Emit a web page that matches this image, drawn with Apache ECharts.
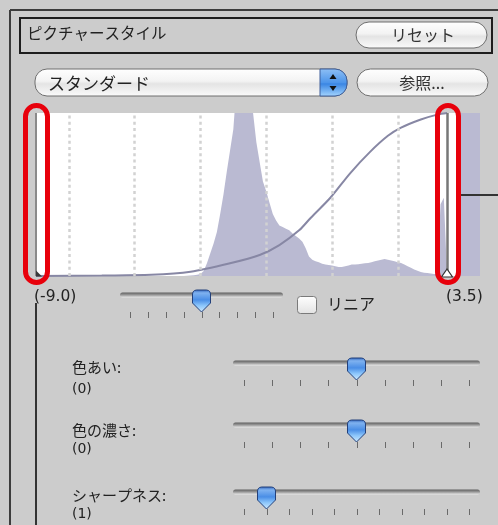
<!DOCTYPE html>
<html><head><meta charset="utf-8">
<script src="https://cdn.jsdelivr.net/npm/echarts/dist/echarts.min.js"></script>
<style>html,body{margin:0;padding:0;background:#cccccc;}#c{width:498px;height:525px;}</style>
</head><body><div id="c"></div>
<script>
// ---- data ----
const histEv = [-4.5,-4.4,-4.3,-4.2,-4.1,-4.0,-3.9,-3.8,-3.7,-3.6,-3.5,-3.4,-3.3,-3.2,-3.1,-3.0,-2.9,-2.8,-2.7,-2.6,-2.5,-2.4,-2.3,-2.2,-2.1,-2.0,-1.9,-1.8,-1.7,-1.6,-1.5,-1.4,-1.3,-1.2,-1.1,-1.0,-0.9,-0.8,-0.7,-0.6,-0.5,-0.4,-0.3,-0.2,-0.1,0.0,0.1,0.2,0.3,0.4,0.5,0.6,0.7,0.8,0.9,1.0,1.1,1.2,1.3,1.4,1.5,1.6,1.7,1.8,1.9,2.0,2.1,2.2,2.3,2.4,2.5,2.6,2.7,2.8,2.9,3.0,3.1,3.2,3.3,3.4,3.5];
const histCount = [0,0.2,0.3,0.5,0.8,1.3,3,8,14,20,27,38,50,64,77,90,118,145,160,155,135,100,82,70,58,52,45,38,34,31,30,29,28,26,24.5,23,21,17,12,10,9,8.5,7.5,7,6.8,6.5,6,5.5,5.5,6,6.5,7,7,7.2,7.5,7.8,8,8.5,9,9.5,10,10.5,10,9.5,9,8.5,8,7,6,5,4,3.2,2.5,2,1.8,1.5,1.2,1,44,48,0];
const curveEv  = [-9,-7,-5.5,-4.3,-3.1,-2.2,-1.6,-1.0,-0.65,-0.05,0.55,1.15,1.7,2.1,2.7,3.2,3.5];
const curveOut = [0,0.3,0.7,2.6,7.8,12.9,19,28,35.6,48,63,76,86,91,96,99,100];
const gridEv = [-8,-6,-4,-2,0,2];
const rangeMin = -9.0, rangeMax = 3.5;
const clipEv = [3.83, 4.5];
const axisMin = -9, axisMax = 4.5;
const sliderLabels = ['色あい:', '色の濃さ:', 'シャープネス:'];
const sliderValues = [0, 0, 1];
const sliderMins = [-4, -4, 0];
const sliderMaxs = [4, 4, 10];
const contrastValue = 0, contrastMin = -4, contrastMax = 4;

// ---- styles / layout ----
const LAV = '#babad2';
const FONT = '"Noto Sans CJK JP", "Noto Sans", sans-serif';
const LATIN = '"DejaVu Sans", sans-serif';
const chart = echarts.init(document.getElementById('c'), null, {renderer:'canvas'});
const G = [];
function txt(x, y, s, size, align, color, fam){
  G.push({type:'text', x:x, y:y, z:50, silent:true, style:{text:s, font:size+'px '+(fam||FONT), fill:color||'#222',
    align:align||'left', textAlign:align||'left', verticalAlign:'middle', textVerticalAlign:'middle'}});
}
function btnGrad(){
  return new echarts.graphic.LinearGradient(0,0,0,1,[
    {offset:0,color:'#ffffff'},{offset:0.45,color:'#f3f3f3'},{offset:0.55,color:'#e4e4e4'},{offset:1,color:'#fbfbfb'}]);
}
function button(x,y,w,h,label,tx,size){
  G.push({type:'rect', z:40, shape:{x:x,y:y,width:w,height:h,r:h/2}, style:{fill:btnGrad(), stroke:'#6f6f6f', lineWidth:1}});
  txt(tx, y+h/2, label, size, 'center', '#333');
}
const THUMB = [[-9,4],[-8.4,1.8],[-7,0.5],[-5,0],[5,0],[7,0.5],[8.4,1.8],[9,4],[9,13],[0,22],[-9,13]];
function thumb(cx, top){
  G.push({type:'polygon', z:45, x:cx, y:top,
    shape:{points:THUMB},
    style:{fill:new echarts.graphic.LinearGradient(0,0,0,1,[
      {offset:0,color:'#2c5fb8'},{offset:0.15,color:'#7fb2f0'},{offset:0.45,color:'#4a8ee6'},{offset:0.7,color:'#8cc6fb'},{offset:1,color:'#d2ecff'}]),
      stroke:'#23407a', lineWidth:1}});
}
function slider(x0,x1,ty,tx0,tx1,tickY,n,val,mn,mx){
  G.push({type:'rect', z:40, shape:{x:x0,y:ty-2.5,width:x1-x0,height:5,r:2.5},
    style:{fill:new echarts.graphic.LinearGradient(0,0,0,1,[{offset:0,color:'#5e5e5e'},{offset:0.5,color:'#9a9a9a'},{offset:1,color:'#e6e6e6'}])}});
  for(let i=0;i<n;i++){
    const x = Math.round(tx0 + (tx1-tx0)*i/(n-1)) + 0.5;
    G.push({type:'line', z:40, shape:{x1:x,y1:tickY,x2:x,y2:tickY+6}, style:{stroke:'#6a6a6a', lineWidth:1}});
  }
  thumb(tx0 + (tx1-tx0)*(val-mn)/(mx-mn), ty-5);
}

// outer panel border
G.push({type:'line', z:30, shape:{x1:10,y1:10,x2:10,y2:525}, style:{stroke:'#3c3c3c', lineWidth:2}});
G.push({type:'line', z:30, shape:{x1:10,y1:10,x2:498,y2:10}, style:{stroke:'#3c3c3c', lineWidth:2}});
// title box
G.push({type:'rect', z:30, shape:{x:20,y:18,width:472,height:35}, style:{fill:'none', stroke:'#1e1e1e', lineWidth:2}});
txt(27, 33, 'ピクチャースタイル', 15.5);
button(356, 22, 131, 26, 'リセット', 423, 16);
// dropdown
G.push({type:'rect', z:40, shape:{x:35,y:69,width:312,height:27,r:12}, style:{fill:btnGrad(), stroke:'#6f6f6f', lineWidth:1}});
G.push({type:'rect', z:41, shape:{x:320,y:69,width:27,height:27,r:[0,12,12,0]},
  style:{fill:new echarts.graphic.LinearGradient(0,0,0,1,[{offset:0,color:'#8fc0f5'},{offset:0.5,color:'#4d95ea'},{offset:0.55,color:'#3a86e3'},{offset:1,color:'#a6d6ff'}]), stroke:'#3f5f9a', lineWidth:1}});
G.push({type:'polygon', z:42, shape:{points:[[333,74],[329.5,79],[336.5,79]]}, style:{fill:'#111'}});
G.push({type:'polygon', z:42, shape:{points:[[333,91],[329.5,86],[336.5,86]]}, style:{fill:'#111'}});
txt(48, 84, 'スタンダード', 17);
button(357, 69, 131, 27, '参照...', 422, 16);

// markers & annotations
G.push({type:'rect', z:100, silent:true, shape:{x:25.5,y:105.5,width:22,height:177,r:11}, style:{fill:'none', stroke:'#e8000b', lineWidth:5}});
G.push({type:'rect', z:100, silent:true, shape:{x:437.5,y:105.5,width:21,height:177,r:11}, style:{fill:'none', stroke:'#e8000b', lineWidth:5}});
G.push({type:'polygon', z:60, shape:{points:[[36,270.5],[36,276.5],[42,276.5]]}, style:{fill:'#3a3a3a'}});
G.push({type:'polygon', z:60, shape:{points:[[447,269],[441.5,277],[452.5,277]]}, style:{fill:'#ffffff', stroke:'#333', lineWidth:1.2}});
G.push({type:'line', z:30, shape:{x1:461,y1:195,x2:498,y2:195}, style:{stroke:'#333', lineWidth:2}});
G.push({type:'line', z:30, shape:{x1:36,y1:303,x2:36,y2:525}, style:{stroke:'#333', lineWidth:2}});
txt(34, 297, '(' + rangeMin.toFixed(1) + ')', 15.5, 'left', '#222', LATIN);
txt(446, 297, '(' + rangeMax.toFixed(1) + ')', 15.5, 'left', '#222', LATIN);

// contrast slider + linear checkbox
slider(120, 283, 295, 130, 273, 312, 9, contrastValue, contrastMin, contrastMax);
G.push({type:'rect', z:40, shape:{x:297.5,y:296.5,width:19,height:17,r:3},
  style:{fill:new echarts.graphic.LinearGradient(0,0,0,1,[{offset:0,color:'#ffffff'},{offset:1,color:'#e2e2e2'}]), stroke:'#7a7a7a', lineWidth:1}});
txt(327, 304, 'リニア', 16);

// other sliders
const rowTrackY = [363, 425, 492];
const rowLabelY = [367, 430, 495];
const rowValueY = [389, 449, 514];
for (let i=0;i<3;i++){
  txt(72, rowLabelY[i], sliderLabels[i], 15);
  txt(72, rowValueY[i], '(' + sliderValues[i] + ')', 14, 'left', '#222', LATIN);
  const n = sliderMaxs[i]-sliderMins[i] > 8 ? 11 : 9;
  slider(233, 480, rowTrackY[i], 244, 469, rowTrackY[i]+17, n, sliderValues[i], sliderMins[i], sliderMaxs[i]);
}

const option = {
  backgroundColor:'#cccccc',
  animation:false,
  grid:{left:36, right:18, top:113, bottom:249, show:true, backgroundColor:'#ffffff', borderWidth:0},
  xAxis:{type:'value', min:axisMin, max:axisMax, show:false},
  yAxis:{type:'value', min:0, max:100, show:false},
  graphic:{elements:G},
  series:[
    {type:'line', data:histEv.map((e,i)=>[e,histCount[i]]), symbol:'none', lineStyle:{width:0}, areaStyle:{color:LAV, opacity:1}, z:2, silent:true,
      markArea:{silent:true, itemStyle:{color:LAV}, data:[[{xAxis:clipEv[0]},{xAxis:clipEv[1]}]]}},
    {type:'line', data:[], z:3, silent:true,
      markLine:{silent:true, symbol:'none', animation:false, label:{show:false}, lineStyle:{color:'#d2d2d2', width:2.5, type:[3,3.3]}, data:gridEv.map(v=>({xAxis:v}))}},
    {type:'line', data:curveEv.map((e,i)=>[e,curveOut[i]]), smooth:0.3, symbol:'none', lineStyle:{color:'#8787a4', width:2}, z:4, silent:true},
    {type:'line', data:[], z:5, silent:true,
      markLine:{silent:true, symbol:'none', animation:false, label:{show:false},
        data:[{xAxis:rangeMin, lineStyle:{color:'#8a8a8a', width:2, type:'solid'}},{xAxis:rangeMax, lineStyle:{color:'#777777', width:2.5, type:'solid'}}]}}
  ]
};
chart.setOption(option);
</script></body></html>
